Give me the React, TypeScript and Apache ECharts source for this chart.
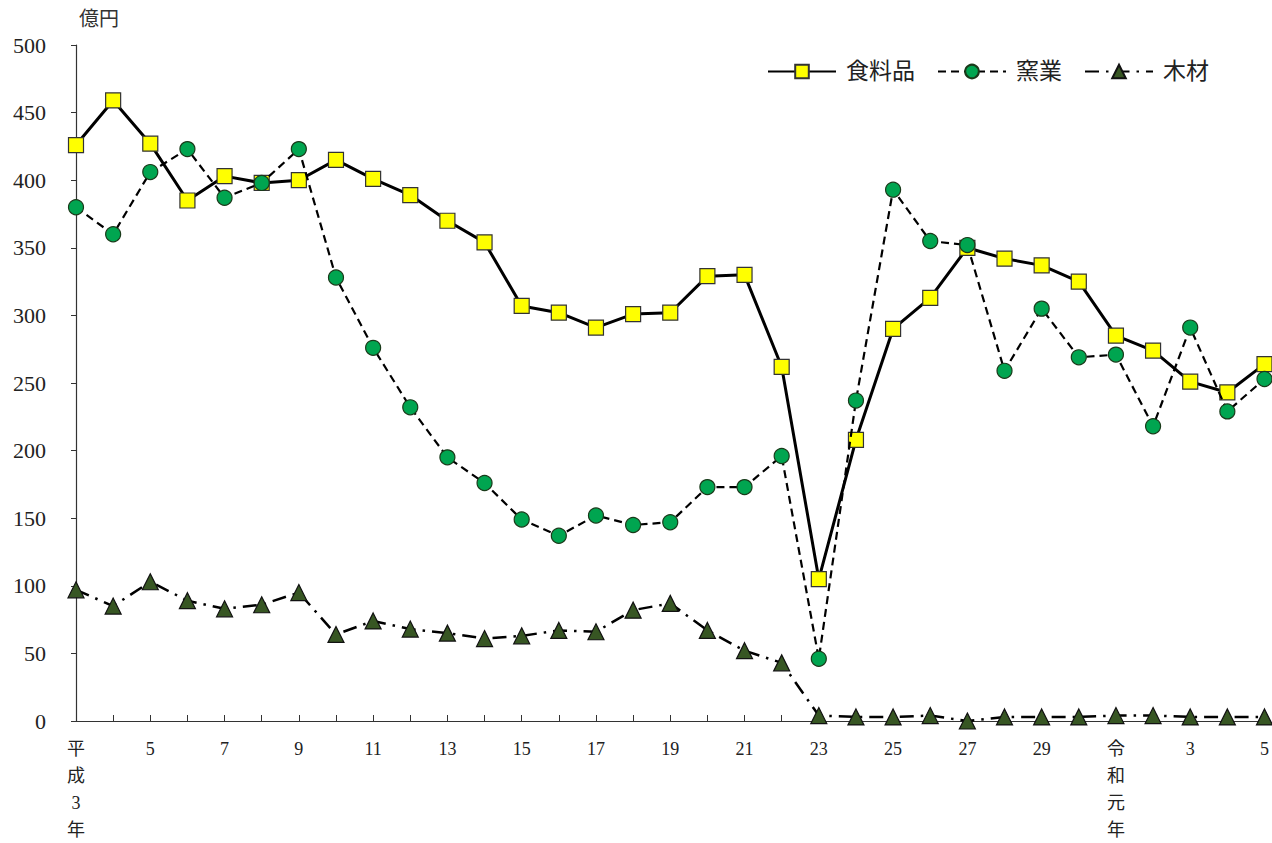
import React, { useEffect, useRef } from "react";
import * as echarts from "echarts";

const xLabels = [
  "平\n成\n3\n年", "4", "5", "6", "7", "8", "9", "10", "11", "12", "13", "14", "15", "16", "17",
  "18", "19", "20", "21", "22", "23", "24", "25", "26", "27", "28", "29", "30",
  "令\n和\n元\n年", "2", "3", "4", "5",
];

const food = [
  426, 459, 427, 385, 403, 398, 400, 415, 401, 389, 370, 354, 307, 302, 291, 301, 302,
  329, 330, 262, 105, 208, 290, 313, 350, 342, 337, 325, 285, 274, 251, 243, 264,
];

const ceramics = [
  380, 360, 406, 423, 387, 398, 423, 328, 276, 232, 195, 176, 149, 137, 152, 145, 147,
  173, 173, 196, 46, 237, 393, 355, 352, 259, 305, 269, 271, 218, 291, 229, 253,
];

const wood = [
  97, 85, 103, 89, 83, 86, 95, 64, 74, 68, 65, 61, 63, 67, 66, 82, 87,
  67, 52, 43, 4, 3, 3, 4, 0, 3, 3, 3, 4, 4, 3, 3, 3,
];

const seriesNames = ["食料品", "窯業", "木材"];
const yTicks = { min: 0, max: 500, interval: 50 };
const unitLabel = "億円";

const FONT = '"Liberation Serif", "Noto Sans CJK JP", serif';

export default function App() {
  const ref = useRef<HTMLDivElement>(null);
  useEffect(() => {
    if (!ref.current) return;
    const chart = echarts.init(ref.current, null, { renderer: "svg" });
    chart.setOption({
      animation: false,
      backgroundColor: "#ffffff",
      grid: { left: 76, right: 7, top: 45, bottom: 117, containLabel: false },
      legend: {
        left: 762,
        top: 55,
        itemWidth: 68,
        itemHeight: 17,
        itemGap: 22,
        textStyle: { fontSize: 23, fontFamily: FONT, color: "#222", padding: [0, 0, 0, 5] },
        data: seriesNames,
      },
      graphic: [
        {
          type: "text",
          left: 79,
          top: 9,
          style: { text: unitLabel, fontSize: 20, fontFamily: FONT, fill: "#333" },
        },
      ],
      xAxis: {
        type: "category",
        data: xLabels,
        boundaryGap: false,
        axisLine: { lineStyle: { color: "#333", width: 1.2 } },
        axisTick: { inside: true, length: 6, interval: 0, lineStyle: { color: "#333" } },
        axisLabel: {
          interval: 1,
          fontSize: 18,
          fontFamily: FONT,
          color: "#222",
          margin: 14,
          lineHeight: 27,
          verticalAlign: "top",
        },
        splitLine: { show: false },
      },
      yAxis: {
        type: "value",
        min: yTicks.min,
        max: yTicks.max,
        interval: yTicks.interval,
        axisLine: { show: true, lineStyle: { color: "#333", width: 1.2 } },
        axisTick: { show: true, inside: false, length: 5, lineStyle: { color: "#333" } },
        axisLabel: { fontSize: 22, fontFamily: FONT, color: "#222", margin: 30 },
        splitLine: { show: false },
      },
      series: [
        {
          name: seriesNames[0],
          type: "line",
          data: food,
          symbol: "rect",
          symbolSize: 15,
          z: 3,
          lineStyle: { color: "#000", width: 3, type: "solid" },
          itemStyle: { color: "#FFFF00", borderColor: "#333", borderWidth: 1.2 },
        },
        {
          name: seriesNames[1],
          type: "line",
          data: ceramics,
          symbol: "circle",
          symbolSize: 15,
          z: 4,
          lineStyle: { color: "#000", width: 2.2, type: [8, 5] },
          itemStyle: { color: "#00A550", borderColor: "#1a3a1a", borderWidth: 1.2 },
        },
        {
          name: seriesNames[2],
          type: "line",
          data: wood,
          symbol: "triangle",
          symbolSize: 16,
          z: 2,
          lineStyle: { color: "#000", width: 2.5, type: [14, 7, 2.5, 7] },
          itemStyle: { color: "#375623", borderColor: "#111", borderWidth: 1.2 },
        },
      ],
    });
    return () => chart.dispose();
  }, []);
  return (
    <div
      ref={ref}
      style={{ position: "fixed", left: 0, top: 0, width: 1272, height: 843, background: "#fff" }}
    />
  );
}
